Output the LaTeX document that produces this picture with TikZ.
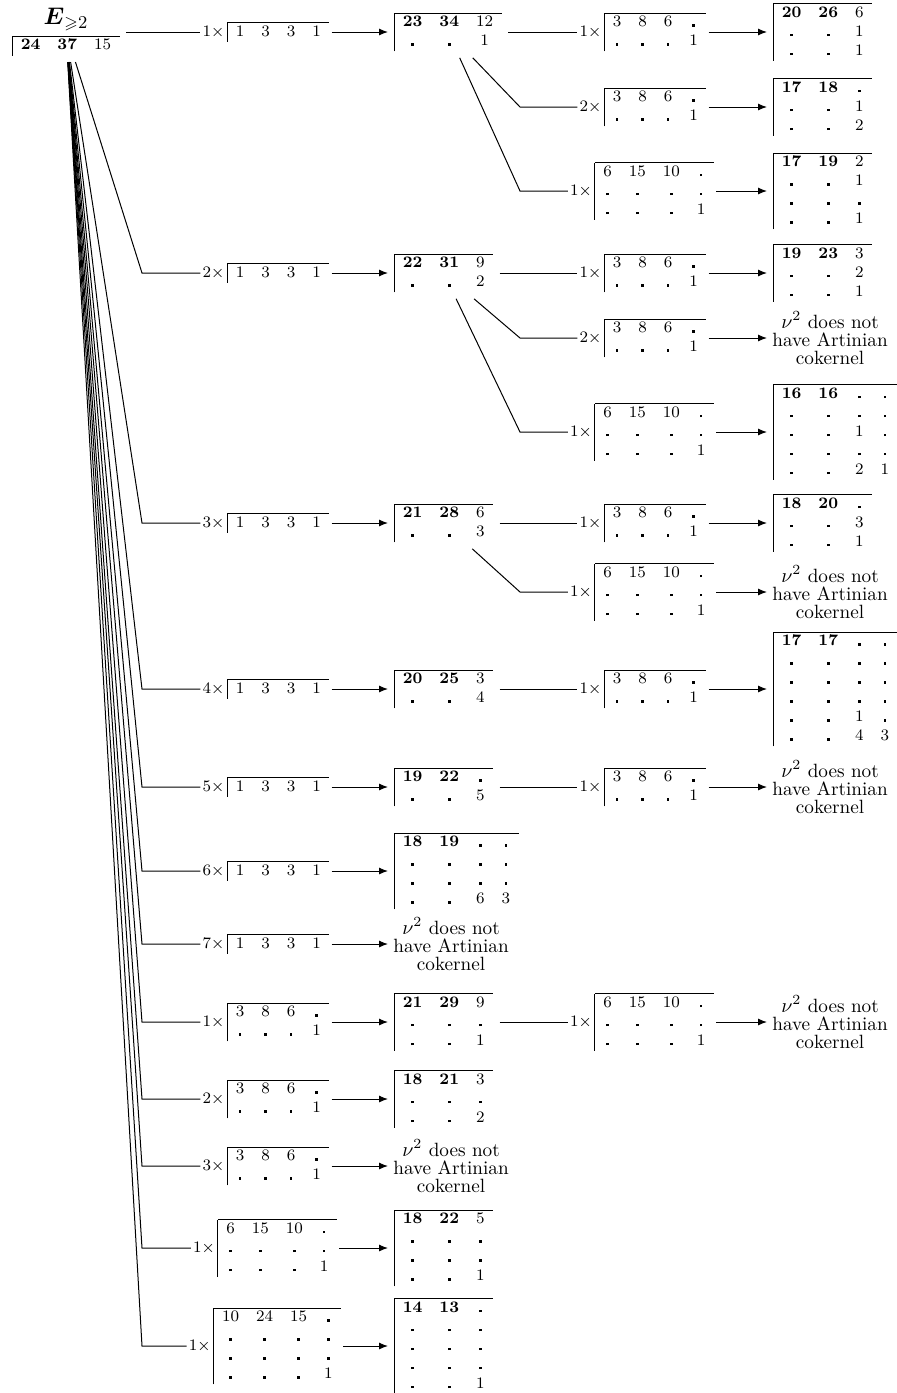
\documentclass[tikz,border=0pt]{standalone}
\usepackage{amsmath,amssymb}
\usetikzlibrary{arrows.meta}
\newcommand{\tabfont}{\fontsize{8}{9.5}\selectfont}
\newcommand{\msgfont}{\fontsize{9.6}{9}\selectfont}
\setlength{\arraycolsep}{4.25pt}
\newcommand{\bb}[1]{\mathbf{#1}}
\newcommand{\nd}{\rule{1.3pt}{1.3pt}}
\newcommand{\tms}[1]{#1{\times}\,}
\newcommand{\TOne}{\begin{array}{|cccc}\hline 1&3&3&1\end{array}}
\newcommand{\TThree}{\begin{array}{|cccc}\hline 3&8&6&\nd\\ \nd&\nd&\nd&1\end{array}}
\newcommand{\TSix}{\begin{array}{|cccc}\hline 6&15&10&\nd\\ \nd&\nd&\nd&\nd\\ \nd&\nd&\nd&1\end{array}}
\newcommand{\TTen}{\begin{array}{|cccc}\hline 10&24&15&\nd\\ \nd&\nd&\nd&\nd\\ \nd&\nd&\nd&\nd\\ \nd&\nd&\nd&1\end{array}}
\newcommand{\NoArt}{$\nu^2$ does not\\have Artinian\\cokernel}
\begin{document}
\begin{tikzpicture}[x=0.5pt,y=-0.5pt,
  op/.style={inner sep=1pt, font=\tabfont},
  res/.style={inner sep=3pt, anchor=west, font=\tabfont},
  msg/.style={inner sep=2.5pt, anchor=west, align=center, font=\msgfont},
  conn/.style={line width=0.5pt},
  arr/.style={line width=0.5pt, -{Latex[length=4.5pt,width=3.5pt]}}]
\useasboundingbox (0,0) rectangle (896,1393);

% root
\node[inner sep=3pt, font=\tabfont] (root) at (66,32)
  {$\begin{array}{|ccc}\multicolumn{3}{c}{\text{\fontsize{12.4}{14}\selectfont$\boldsymbol{E}_{\geqslant 2}$}\rule[-5.5pt]{0pt}{5.5pt}}\\\hline \bb{24}&\bb{37}&15\end{array}$};

% first-level operations
\node[op] (o1) at (266,32) {$\tms{1}\TOne$};
\node[op] (o2) at (266,273) {$\tms{2}\TOne$};
\node[op] (o3) at (266,523) {$\tms{3}\TOne$};
\node[op] (o4) at (266,689) {$\tms{4}\TOne$};
\node[op] (o5) at (266,787) {$\tms{5}\TOne$};
\node[op] (o6) at (266,871) {$\tms{6}\TOne$};
\node[op] (o7) at (266,944) {$\tms{7}\TOne$};
\node[op] (o8) at (266,1022) {$\tms{1}\TThree$};
\node[op] (o9) at (266,1099) {$\tms{2}\TThree$};
\node[op] (o10) at (266,1166) {$\tms{3}\TThree$};
\node[op] (o11) at (265,1248) {$\tms{1}\TSix$};
\node[op] (o12) at (265,1346) {$\tms{1}\TTen$};

% first-level results
\node[res] (r1) at (388,32) {$\begin{array}{|ccc}\hline \bb{23}&\bb{34}&12\\ \nd&\nd&1\end{array}$};
\node[res] (r2) at (388,273) {$\begin{array}{|ccc}\hline \bb{22}&\bb{31}&9\\ \nd&\nd&2\end{array}$};
\node[res] (r3) at (388,523) {$\begin{array}{|ccc}\hline \bb{21}&\bb{28}&6\\ \nd&\nd&3\end{array}$};
\node[res] (r4) at (388,689) {$\begin{array}{|ccc}\hline \bb{20}&\bb{25}&3\\ \nd&\nd&4\end{array}$};
\node[res] (r5) at (388,787) {$\begin{array}{|ccc}\hline \bb{19}&\bb{22}&\nd\\ \nd&\nd&5\end{array}$};
\node[res] (r6) at (388,871) {$\begin{array}{|cccc}\hline \bb{18}&\bb{19}&\nd&\nd\\ \nd&\nd&\nd&\nd\\ \nd&\nd&\nd&\nd\\ \nd&\nd&6&3\end{array}$};
\node[msg] (r7) at (388,944) {\NoArt};
\node[res] (r8) at (388,1022) {$\begin{array}{|ccc}\hline \bb{21}&\bb{29}&9\\ \nd&\nd&\nd\\ \nd&\nd&1\end{array}$};
\node[res] (r9) at (388,1099) {$\begin{array}{|ccc}\hline \bb{18}&\bb{21}&3\\ \nd&\nd&\nd\\ \nd&\nd&2\end{array}$};
\node[msg] (r10) at (388,1166) {\NoArt};
\node[res] (r11) at (388,1248) {$\begin{array}{|ccc}\hline \bb{18}&\bb{22}&5\\ \nd&\nd&\nd\\ \nd&\nd&\nd\\ \nd&\nd&1\end{array}$};
\node[res] (r12) at (388,1346) {$\begin{array}{|ccc}\hline \bb{14}&\bb{13}&\nd\\ \nd&\nd&\nd\\ \nd&\nd&\nd\\ \nd&\nd&\nd\\ \nd&\nd&1\end{array}$};

% second-level operations
\node[op] (o1a) at (643,32) {$\tms{1}\TThree$};
\node[op] (o1b) at (643,107) {$\tms{2}\TThree$};
\node[op] (o1c) at (642,191) {$\tms{1}\TSix$};
\node[op] (o2a) at (643,273) {$\tms{1}\TThree$};
\node[op] (o2b) at (643,338) {$\tms{2}\TThree$};
\node[op] (o2c) at (642,432) {$\tms{1}\TSix$};
\node[op] (o3a) at (643,523) {$\tms{1}\TThree$};
\node[op] (o3b) at (642,592) {$\tms{1}\TSix$};
\node[op] (o4a) at (643,689) {$\tms{1}\TThree$};
\node[op] (o5a) at (643,787) {$\tms{1}\TThree$};
\node[op] (o8a) at (642,1022) {$\tms{1}\TSix$};

% second-level results
\node[res] (r1a) at (767,32) {$\begin{array}{|ccc}\hline \bb{20}&\bb{26}&6\\ \nd&\nd&1\\ \nd&\nd&1\end{array}$};
\node[res] (r1b) at (767,107) {$\begin{array}{|ccc}\hline \bb{17}&\bb{18}&\nd\\ \nd&\nd&1\\ \nd&\nd&2\end{array}$};
\node[res] (r1c) at (767,191) {$\begin{array}{|ccc}\hline \bb{17}&\bb{19}&2\\ \nd&\nd&1\\ \nd&\nd&\nd\\ \nd&\nd&1\end{array}$};
\node[res] (r2a) at (767,273) {$\begin{array}{|ccc}\hline \bb{19}&\bb{23}&3\\ \nd&\nd&2\\ \nd&\nd&1\end{array}$};
\node[msg] (r2b) at (767,338) {\NoArt};
\node[res] (r2c) at (767,432) {$\begin{array}{|cccc}\hline \bb{16}&\bb{16}&\nd&\nd\\ \nd&\nd&\nd&\nd\\ \nd&\nd&1&\nd\\ \nd&\nd&\nd&\nd\\ \nd&\nd&2&1\end{array}$};
\node[res] (r3a) at (767,523) {$\begin{array}{|ccc}\hline \bb{18}&\bb{20}&\nd\\ \nd&\nd&3\\ \nd&\nd&1\end{array}$};
\node[msg] (r3b) at (767,592) {\NoArt};
\node[res] (r4a) at (767,689) {$\begin{array}{|cccc}\hline \bb{17}&\bb{17}&\nd&\nd\\ \nd&\nd&\nd&\nd\\ \nd&\nd&\nd&\nd\\ \nd&\nd&\nd&\nd\\ \nd&\nd&1&\nd\\ \nd&\nd&4&3\end{array}$};
\node[msg] (r5a) at (767,787) {\NoArt};
\node[msg] (r8a) at (767,1022) {\NoArt};

% corner coordinates
\coordinate (c2) at (142,273);
\coordinate (c3) at (142,523);
\coordinate (c4) at (142,689);
\coordinate (c5) at (142,787);
\coordinate (c6) at (142,871);
\coordinate (c7) at (142,944);
\coordinate (c8) at (142,1022);
\coordinate (c9) at (142,1099);
\coordinate (c10) at (142,1166);
\coordinate (c11) at (142,1248);
\coordinate (c12) at (142,1346);
\coordinate (d1b) at (520,107);
\coordinate (d1c) at (520,191);
\coordinate (d2b) at (520,338);
\coordinate (d2c) at (520,432);
\coordinate (d3b) at (520,592);

% root connectors
\draw[conn] (root) -- (o1);
\foreach \k in {2,...,12} {\draw[conn] (root) -- (c\k) -- (o\k);}
\foreach \k in {1,...,12} {\draw[arr] (o\k) -- (r\k);}

% second level connectors
\draw[conn] (r1) -- (o1a);
\draw[conn] (r1) -- (d1b) -- (o1b);
\draw[conn] (r1) -- (d1c) -- (o1c);
\draw[conn] (r2) -- (o2a);
\draw[conn] (r2) -- (d2b) -- (o2b);
\draw[conn] (r2) -- (d2c) -- (o2c);
\draw[conn] (r3) -- (o3a);
\draw[conn] (r3) -- (d3b) -- (o3b);
\draw[conn] (r4) -- (o4a);
\draw[conn] (r5) -- (o5a);
\draw[conn] (r8) -- (o8a);
\foreach \n in {1a,1b,1c,2a,2b,2c,3a,3b,4a,5a,8a} {\draw[arr] (o\n) -- (r\n);}
\end{tikzpicture}
\end{document}
